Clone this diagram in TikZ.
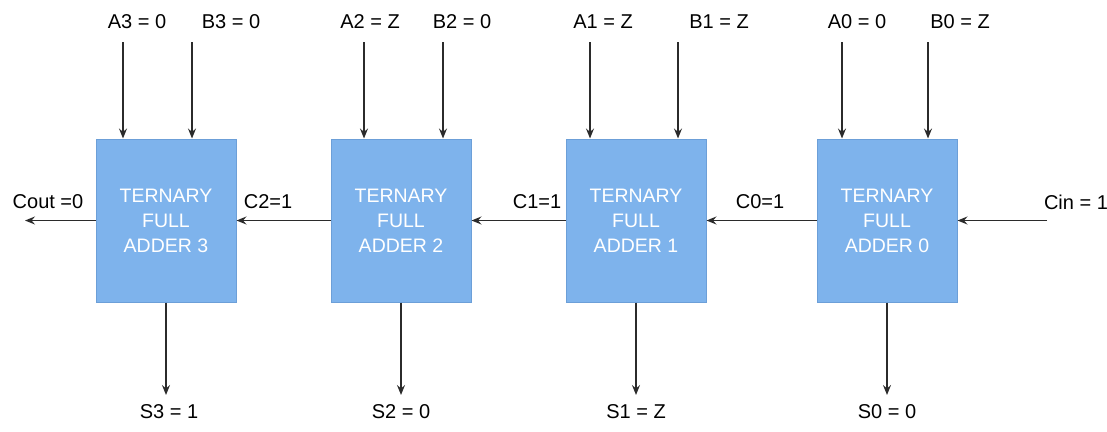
\documentclass[tikz,border=0pt]{standalone}
\usepackage{fontspec}
\setmainfont{Liberation Sans}
\usetikzlibrary{arrows.meta}
\definecolor{boxfill}{HTML}{7EB3EC}
\definecolor{boxline}{HTML}{6C9FD8}
\definecolor{linecol}{HTML}{2B2B2B}
\begin{document}
\begin{tikzpicture}[x=1pt,y=-1pt,
  adder/.style={draw=boxline,line width=1pt,fill=boxfill,minimum width=140pt,minimum height=163pt,inner sep=0pt,
    text=white,font=\fontsize{19.5}{25}\selectfont,align=center},
  lbl/.style={font=\fontsize{20}{22}\selectfont,text=black,inner sep=0pt},
  wire/.style={draw=linecol,line width=1.8pt,-{Stealth[length=10pt,width=8pt,inset=3.5pt]}}]
\useasboundingbox (0,0) rectangle (1107,431);
% adders
\node[adder] (fa3) at (166,220.5) {TERNARY\\FULL\\ADDER 3};
\node[adder] (fa2) at (401,220.5) {TERNARY\\FULL\\ADDER 2};
\node[adder] (fa1) at (636,220.5) {TERNARY\\FULL\\ADDER 1};
\node[adder] (fa0) at (887,220.5) {TERNARY\\FULL\\ADDER 0};
% top labels
\node[lbl] (a3) at (137,22) {A3 = 0};
\node[lbl] (b3) at (231,22) {B3 = 0};
\node[lbl] (a2) at (370,22) {A2 = Z};
\node[lbl] (b2) at (462,22) {B2 = 0};
\node[lbl] (a1) at (603,22) {A1 = Z};
\node[lbl] (b1) at (719,22) {B1 = Z};
\node[lbl] (a0) at (857,22) {A0 = 0};
\node[lbl] (b0) at (960,22) {B0 = Z};
% top wire starts
\coordinate (a3s) at (123,42);
\coordinate (b3s) at (192,42);
\coordinate (a2s) at (364,42);
\coordinate (b2s) at (443,42);
\coordinate (a1s) at (590,42);
\coordinate (b1s) at (678,42);
\coordinate (a0s) at (842,42);
\coordinate (b0s) at (928,42);
\foreach \s/\n in {a3s/fa3,b3s/fa3,a2s/fa2,b2s/fa2,a1s/fa1,b1s/fa1,a0s/fa0,b0s/fa0}
  \draw[wire] (\s) -- (\s |- \n.north);
% bottom labels
\node[lbl] (s3) at (169,412) {S3 = 1};
\node[lbl] (s2) at (401,412) {S2 = 0};
\node[lbl] (s1) at (636,412) {S1 = Z};
\node[lbl] (s0) at (887,412) {S0 = 0};
\coordinate (s3e) at (166,395);
\coordinate (s2e) at (401,395);
\coordinate (s1e) at (636,395);
\coordinate (s0e) at (887,395);
\draw[wire] (fa3.south) -- (s3e);
\draw[wire] (fa2.south) -- (s2e);
\draw[wire] (fa1.south) -- (s1e);
\draw[wire] (fa0.south) -- (s0e);
% carries
\coordinate (cine) at (1047,220.5);
\coordinate (coute) at (25,220.5);
\draw[wire] (cine) -- (fa0.east);
\draw[wire] (fa0.west) -- (fa1.east);
\draw[wire] (fa1.west) -- (fa2.east);
\draw[wire] (fa2.west) -- (fa3.east);
\draw[wire] (fa3.west) -- (coute);
\node[lbl] (cin) at (1076,202) {Cin = 1};
\node[lbl] (c0) at (760,202) {C0=1};
\node[lbl] (c1) at (537,202) {C1=1};
\node[lbl] (c2) at (268,202) {C2=1};
\node[lbl] (cout) at (48,202) {Cout =0};
\end{tikzpicture}
\end{document}
